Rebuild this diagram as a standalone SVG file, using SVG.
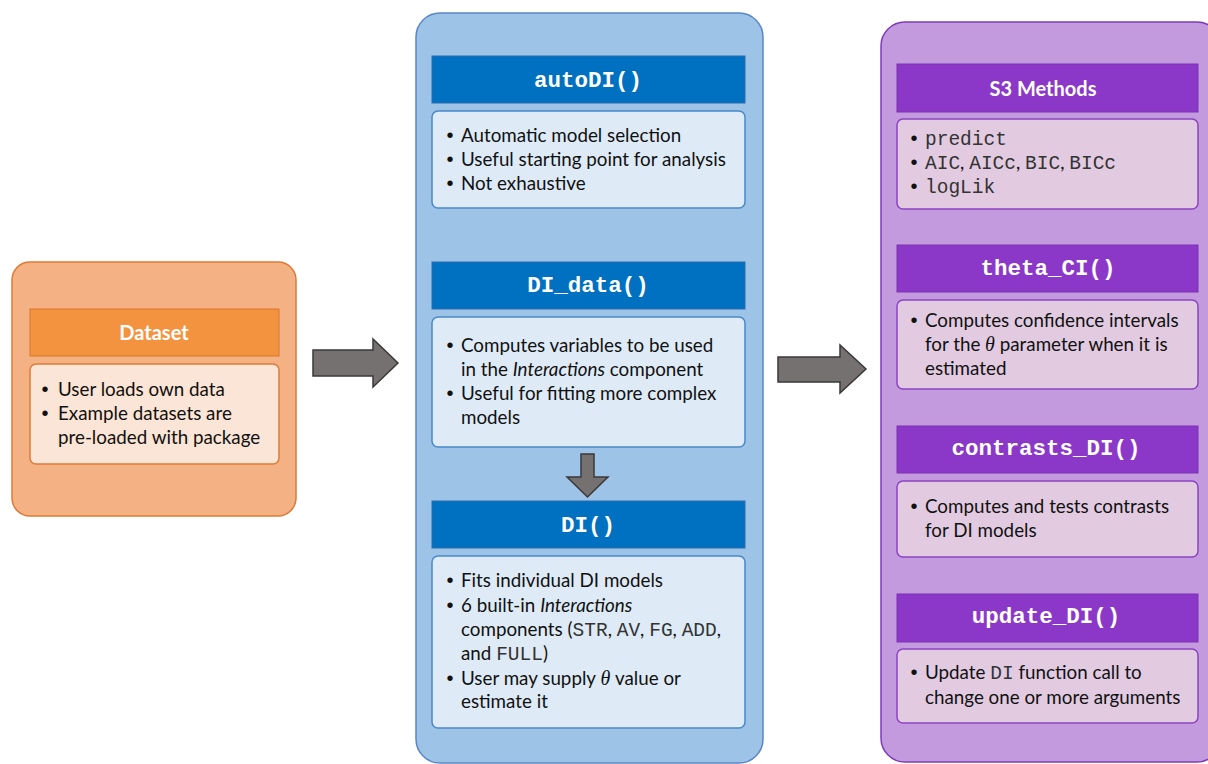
<svg xmlns="http://www.w3.org/2000/svg" width="1208" height="764" viewBox="0 0 1208 764">
<style>
.t{font-family:Lato,"Noto Sans","Liberation Sans",sans-serif;font-size:18.8px;fill:#111}
.b{font-family:"Liberation Sans",Arial,sans-serif;font-size:20px;fill:#111;text-anchor:middle}
.m{font-family:"Liberation Mono","Courier New",monospace;font-size:19.5px;fill:#333}
.h{font-family:"Liberation Mono","Courier New",monospace;font-weight:bold;font-size:22.5px;fill:#fff;text-anchor:middle}
.hs{font-family:Lato,"Noto Sans","Liberation Sans",sans-serif;font-weight:bold;font-size:20px;fill:#fff;text-anchor:middle}
.th{font-family:"Liberation Serif","DejaVu Serif",serif;font-style:italic;font-size:20px}
.arr{fill:#767171;stroke:#3a3838;stroke-width:1.5}
</style>
<rect width="1208" height="764" fill="#fff"/>
<g id="dataset">
<rect x="12" y="262" width="284" height="254" rx="18" fill="#F4B183" stroke="#DE7A35" stroke-width="1.5"/>
<rect x="30" y="309" width="249" height="47" fill="#F4933F" stroke="#D9772F" stroke-width="1"/>
<text class="hs" x="154" y="340">Dataset</text>
<rect x="30" y="364" width="249" height="100" rx="6" fill="#FBE5D6" stroke="#E07B39" stroke-width="1.5"/>
<text class="b" x="45" y="396">•</text><text class="t" x="58" y="396">User loads own data</text>
<text class="b" x="45" y="420">•</text><text class="t" x="58" y="420">Example datasets are</text>
<text class="t" x="58" y="444">pre-loaded with package</text>
</g>
<g id="fitting">
<rect x="416" y="13" width="347" height="750" rx="24" fill="#9DC3E6" stroke="#5A86C8" stroke-width="1.5"/>
</g>
<g id="autoDI">
<rect x="432" y="56" width="313" height="47" fill="#0070C0" stroke="#2E6DAF" stroke-width="1"/>
<text class="h" x="588" y="87">autoDI()</text>
<rect x="432" y="111" width="313" height="97" rx="6" fill="#DEEBF7" stroke="#4A89C8" stroke-width="1.5"/>
<text class="b" x="450" y="142">•</text><text class="t" x="461" y="142">Automatic model selection</text>
<text class="b" x="450" y="166">•</text><text class="t" x="461" y="166">Useful starting point for analysis</text>
<text class="b" x="450" y="190">•</text><text class="t" x="461" y="190">Not exhaustive</text>
</g>
<g id="DI_data">
<rect x="432" y="262" width="313" height="47" fill="#0070C0" stroke="#2E6DAF" stroke-width="1"/>
<text class="h" x="588" y="292">DI_data()</text>
<rect x="432" y="317" width="313" height="130" rx="6" fill="#DEEBF7" stroke="#4A89C8" stroke-width="1.5"/>
<text class="b" x="450" y="352">•</text><text class="t" x="461" y="352">Computes variables to be used</text>
<text class="t" x="461" y="376">in the <tspan font-style="italic">Interactions</tspan> component</text>
<text class="b" x="450" y="400">•</text><text class="t" x="461" y="400">Useful for fitting more complex</text>
<text class="t" x="461" y="424">models</text>
</g>
<g id="DI">
<rect x="432" y="501" width="313" height="47" fill="#0070C0" stroke="#2E6DAF" stroke-width="1"/>
<text class="h" x="588" y="532">DI()</text>
<rect x="432" y="556" width="313" height="172" rx="6" fill="#DEEBF7" stroke="#4A89C8" stroke-width="1.5"/>
<text class="b" x="450" y="587">•</text><text class="t" x="461" y="587">Fits individual DI models</text>
<text class="b" x="450" y="612">•</text><text class="t" x="461" y="612">6 built-in <tspan font-style="italic">Interactions</tspan></text>
<text class="t" x="461" y="636">components (<tspan class="m">STR</tspan>, <tspan class="m">AV</tspan>, <tspan class="m">FG</tspan>, <tspan class="m">ADD</tspan>,</text>
<text class="t" x="461" y="660">and <tspan class="m">FULL</tspan>)</text>
<text class="b" x="450" y="685">•</text><text class="t" x="461" y="685">User may supply <tspan class="th">θ</tspan> value or</text>
<text class="t" x="461" y="708">estimate it</text>
</g>
<g id="methods">
<rect x="881" y="22" width="340" height="740" rx="24" fill="#C49ADF" stroke="#7E3BB8" stroke-width="1.5"/>
</g>
<g id="S3">
<rect x="897" y="64" width="301" height="48" fill="#8B38C9" stroke="#7A32B0" stroke-width="1"/>
<text class="hs" x="1043" y="96">S3 Methods</text>
<rect x="897" y="119" width="301" height="90" rx="6" fill="#E2CBE1" stroke="#8B44C0" stroke-width="1.5"/>
<text class="b" x="914" y="145">•</text><text class="m" x="925" y="145">predict</text>
<text class="b" x="914" y="169">•</text><text class="t" x="925" y="169"><tspan class="m">AIC</tspan>, <tspan class="m">AICc</tspan>, <tspan class="m">BIC</tspan>, <tspan class="m">BICc</tspan></text>
<text class="b" x="914" y="193">•</text><text class="m" x="925" y="193">logLik</text>
</g>
<g id="theta_CI">
<rect x="897" y="245" width="301" height="47" fill="#8B38C9" stroke="#7A32B0" stroke-width="1"/>
<text class="h" x="1048" y="275">theta_CI()</text>
<rect x="897" y="300" width="301" height="89" rx="6" fill="#E2CBE1" stroke="#8B44C0" stroke-width="1.5"/>
<text class="b" x="914" y="327">•</text><text class="t" x="925" y="327">Computes confidence intervals</text>
<text class="t" x="925" y="351">for the <tspan class="th">θ</tspan> parameter when it is</text>
<text class="t" x="925" y="375">estimated</text>
</g>
<g id="contrasts_DI">
<rect x="897" y="426" width="301" height="47" fill="#8B38C9" stroke="#7A32B0" stroke-width="1"/>
<text class="h" x="1046" y="455">contrasts_DI()</text>
<rect x="897" y="481" width="301" height="76" rx="6" fill="#E2CBE1" stroke="#8B44C0" stroke-width="1.5"/>
<text class="b" x="914" y="513">•</text><text class="t" x="925" y="513">Computes and tests contrasts</text>
<text class="t" x="925" y="537">for DI models</text>
</g>
<g id="update_DI">
<rect x="897" y="594" width="301" height="48" fill="#8B38C9" stroke="#7A32B0" stroke-width="1"/>
<text class="h" x="1046" y="623">update_DI()</text>
<rect x="897" y="649" width="301" height="74" rx="6" fill="#E2CBE1" stroke="#8B44C0" stroke-width="1.5"/>
<text class="b" x="914" y="679">•</text><text class="t" x="925" y="679">Update <tspan class="m">DI</tspan> function call to</text>
<text class="t" x="925" y="704">change one or more arguments</text>
</g>
<g id="connectors">
<polygon class="arr" points="313,350 373,350 373,339 398,363 373,387 373,376 313,376"/>
<polygon class="arr" points="567,477 581,477 581,454 594,454 594,477 608,477 587.5,497"/>
<polygon class="arr" points="778,357 840,357 840,345 866,369 840,393 840,382 778,382"/>
</g>
</svg>
